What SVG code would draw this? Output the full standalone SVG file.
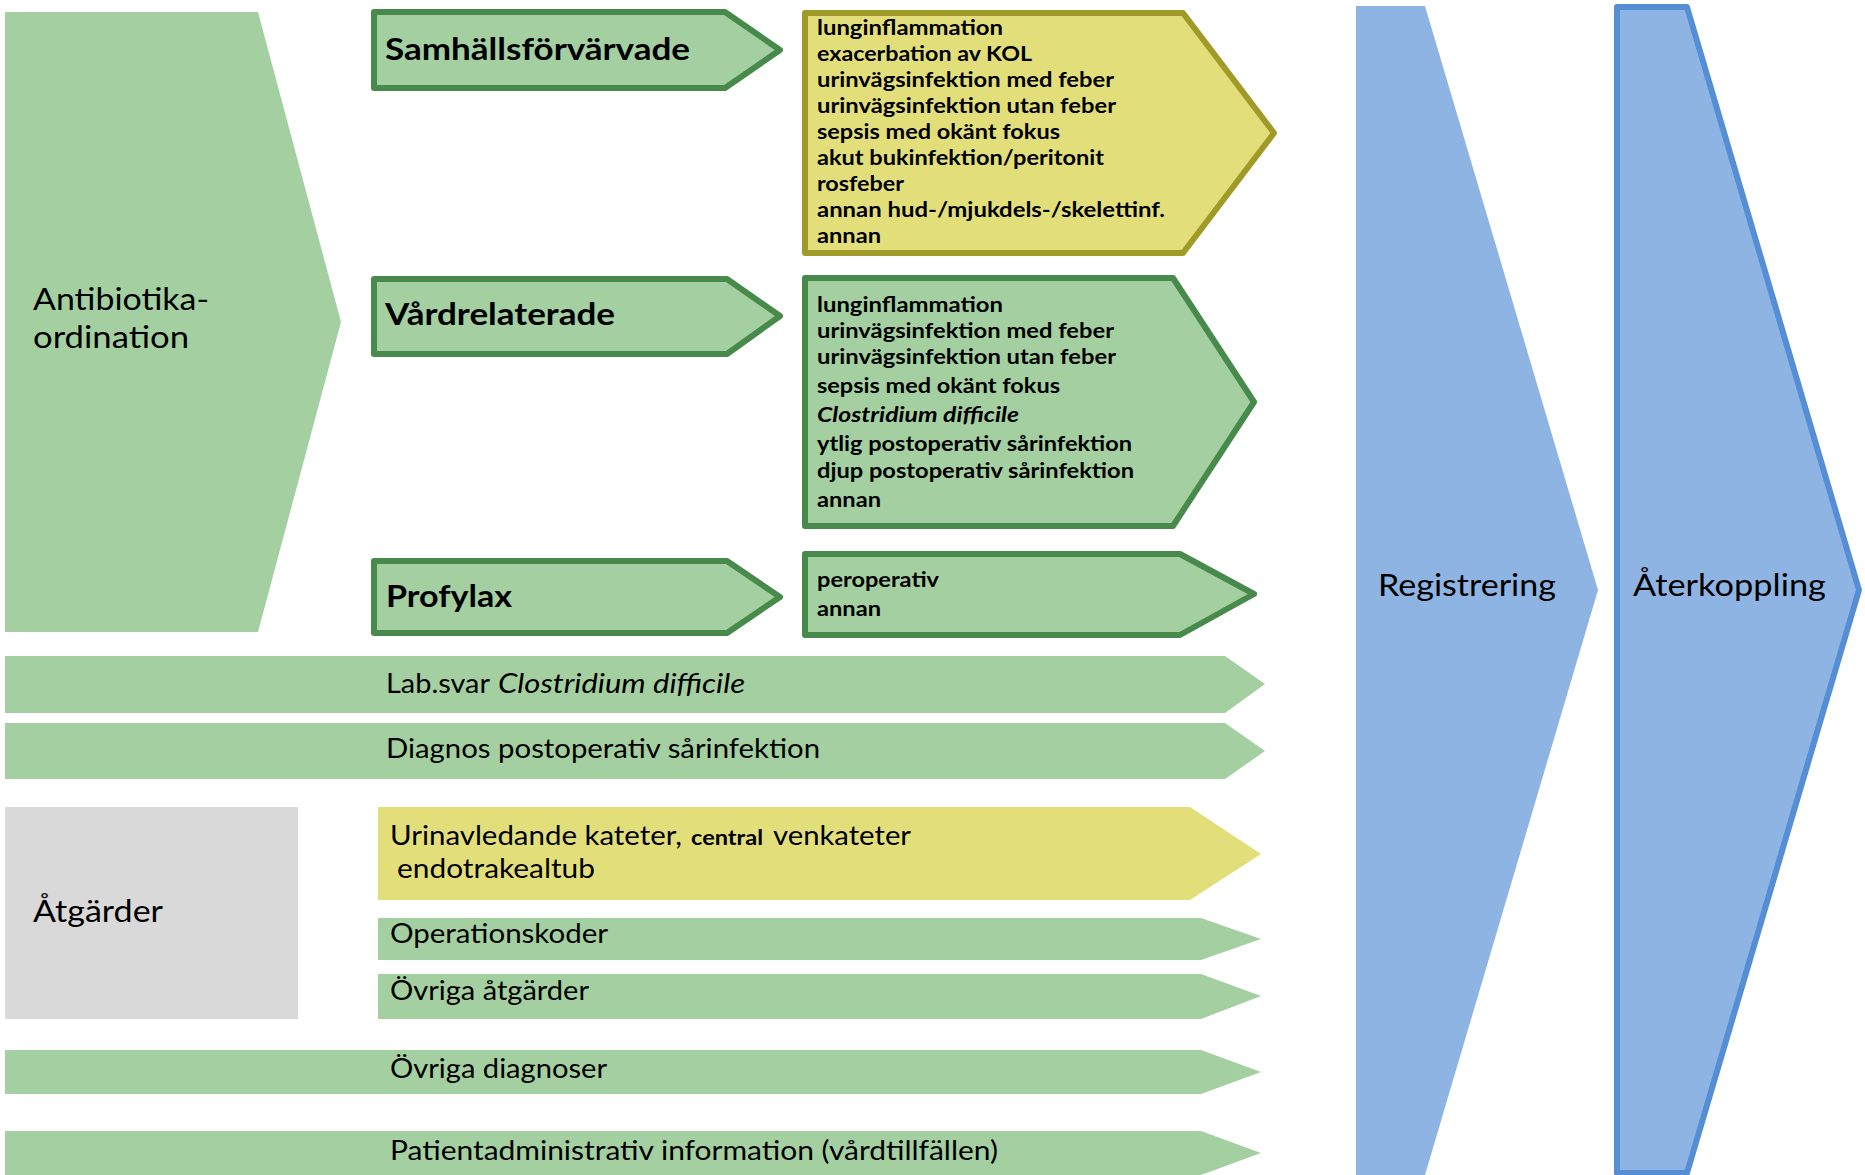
<svg xmlns="http://www.w3.org/2000/svg" width="1865" height="1175" viewBox="0 0 1865 1175">
<style>
.g{fill:#A4CFA0}
.gs{fill:#A4CFA0;stroke:#488A4C;stroke-width:6;stroke-linejoin:round}
.ys{fill:#E2DF7A;stroke:#A09B28;stroke-width:6;stroke-linejoin:round}
.y{fill:#E2DF7A}
.gr{fill:#D9D9D9}
.b{fill:#8EB4E3}
.bs{fill:#8EB4E3;stroke:#558ED5;stroke-width:6;stroke-linejoin:round}
text{font-family:Lato,"Open Sans","Liberation Sans",sans-serif;fill:#000}
.t{font-size:27px}
.big{font-size:31px}
.h{font-size:31px;font-weight:bold}
.l{font-size:21px;font-weight:bold}
.i{font-style:italic}
</style>
<rect width="1865" height="1175" fill="#fff"/>
<g id="connectors"/>
<g id="antibiotika">
<polygon class="g" points="5,12 258,12 341,322 258,632 5,632"/>
<text class="big" x="33" y="310" textLength="176" lengthAdjust="spacingAndGlyphs">Antibiotika-</text>
<text class="big" x="33" y="348" textLength="156" lengthAdjust="spacingAndGlyphs">ordination</text>
</g>
<g id="samhall">
<polygon class="gs" points="374,12 725,12 780,50 725,88 374,88"/>
<text class="h" x="385" y="60" textLength="305" lengthAdjust="spacingAndGlyphs">Samhällsförvärvade</text>
</g>
<g id="vardrel">
<polygon class="gs" points="374,279 727,279 780,316 727,354 374,354"/>
<text class="h" x="385" y="325" textLength="230" lengthAdjust="spacingAndGlyphs">Vårdrelaterade</text>
</g>
<g id="profylax">
<polygon class="gs" points="374,561 727,561 780,597 727,633 374,633"/>
<text class="h" x="386" y="607" textLength="126" lengthAdjust="spacingAndGlyphs">Profylax</text>
</g>
<g id="samhall-list">
<polygon class="ys" points="805,13 1183,13 1274,133 1183,253 805,253"/>
<text class="l" x="817" y="35" textLength="186" lengthAdjust="spacingAndGlyphs">lunginflammation</text>
<text class="l" x="817" y="61" textLength="215" lengthAdjust="spacingAndGlyphs">exacerbation av KOL</text>
<text class="l" x="817" y="87" textLength="297" lengthAdjust="spacingAndGlyphs">urinvägsinfektion med feber</text>
<text class="l" x="817" y="113" textLength="299" lengthAdjust="spacingAndGlyphs">urinvägsinfektion utan feber</text>
<text class="l" x="817" y="139" textLength="243" lengthAdjust="spacingAndGlyphs">sepsis med okänt fokus</text>
<text class="l" x="817" y="165" textLength="287" lengthAdjust="spacingAndGlyphs">akut bukinfektion/peritonit</text>
<text class="l" x="817" y="191" textLength="87" lengthAdjust="spacingAndGlyphs">rosfeber</text>
<text class="l" x="817" y="217" textLength="348" lengthAdjust="spacingAndGlyphs">annan hud-/mjukdels-/skelettinf.</text>
<text class="l" x="817" y="243" textLength="64" lengthAdjust="spacingAndGlyphs">annan</text>
</g>
<g id="vardrel-list">
<polygon class="gs" points="805,278 1173,278 1254,402 1173,526 805,526"/>
<text class="l" x="817" y="312" textLength="186" lengthAdjust="spacingAndGlyphs">lunginflammation</text>
<text class="l" x="817" y="338" textLength="297" lengthAdjust="spacingAndGlyphs">urinvägsinfektion med feber</text>
<text class="l" x="817" y="364" textLength="299" lengthAdjust="spacingAndGlyphs">urinvägsinfektion utan feber</text>
<text class="l" x="817" y="393" textLength="243" lengthAdjust="spacingAndGlyphs">sepsis med okänt fokus</text>
<text class="l i" x="817" y="422" textLength="202" lengthAdjust="spacingAndGlyphs">Clostridium difficile</text>
<text class="l" x="817" y="451" textLength="315" lengthAdjust="spacingAndGlyphs">ytlig postoperativ sårinfektion</text>
<text class="l" x="817" y="478" textLength="317" lengthAdjust="spacingAndGlyphs">djup postoperativ sårinfektion</text>
<text class="l" x="817" y="507" textLength="64" lengthAdjust="spacingAndGlyphs">annan</text>
</g>
<g id="profylax-list">
<polygon class="gs" points="805,554 1180,554 1254,594 1180,635 805,635"/>
<text class="l" x="817" y="587" textLength="122" lengthAdjust="spacingAndGlyphs">peroperativ</text>
<text class="l" x="817" y="616" textLength="64" lengthAdjust="spacingAndGlyphs">annan</text>
</g>
<g id="labsvar">
<polygon class="g" points="5,656 1225,656 1265,684 1225,713 5,713"/>
<text class="t" x="386" y="693" textLength="104" lengthAdjust="spacingAndGlyphs">Lab.svar</text>
<text class="t i" x="498" y="693" textLength="247" lengthAdjust="spacingAndGlyphs">Clostridium difficile</text>
</g>
<g id="diagnos">
<polygon class="g" points="5,723 1225,723 1265,751 1225,779 5,779"/>
<text class="t" x="386" y="758" textLength="434" lengthAdjust="spacingAndGlyphs">Diagnos postoperativ sårinfektion</text>
</g>
<g id="atgarder">
<rect class="gr" x="5" y="807" width="293" height="212"/>
<text class="big" x="33" y="922" textLength="130" lengthAdjust="spacingAndGlyphs">Åtgärder</text>
</g>
<g id="kateter">
<polygon class="y" points="378,807 1190,807 1261,854 1190,900 378,900"/>
<text class="t" x="390" y="845" textLength="292" lengthAdjust="spacingAndGlyphs">Urinavledande kateter,</text>
<text class="l" x="691" y="845" textLength="72" lengthAdjust="spacingAndGlyphs">central</text>
<text class="t" x="773" y="845" textLength="138" lengthAdjust="spacingAndGlyphs">venkateter</text>
<text class="t" x="397" y="878" textLength="198" lengthAdjust="spacingAndGlyphs">endotrakealtub</text>
</g>
<g id="operationskoder">
<polygon class="g" points="378,918 1201,918 1261,939 1201,960 378,960"/>
<text class="t" x="390" y="943" textLength="218" lengthAdjust="spacingAndGlyphs">Operationskoder</text>
</g>
<g id="ovriga-atgarder">
<polygon class="g" points="378,974 1201,974 1261,996 1201,1019 378,1019"/>
<text class="t" x="390" y="1000" textLength="199" lengthAdjust="spacingAndGlyphs">Övriga åtgärder</text>
</g>
<g id="ovriga-diagnoser">
<polygon class="g" points="5,1050 1201,1050 1261,1072 1201,1094 5,1094"/>
<text class="t" x="390" y="1078" textLength="217" lengthAdjust="spacingAndGlyphs">Övriga diagnoser</text>
</g>
<g id="patientadm">
<polygon class="g" points="5,1131 1201,1131 1261,1153 1201,1175 5,1175"/>
<text class="t" x="390" y="1160" textLength="608" lengthAdjust="spacingAndGlyphs">Patientadministrativ information (vårdtillfällen)</text>
</g>
<g id="registrering">
<polygon class="b" points="1356,6 1425,6 1598,590 1425,1175 1356,1175"/>
<text class="big" x="1378" y="596" textLength="178" lengthAdjust="spacingAndGlyphs">Registrering</text>
</g>
<g id="aterkoppling">
<polygon class="bs" points="1617,7 1687,7 1859,590 1687,1173 1617,1173"/>
<text class="big" x="1633" y="596" textLength="193" lengthAdjust="spacingAndGlyphs">Återkoppling</text>
</g>
</svg>
